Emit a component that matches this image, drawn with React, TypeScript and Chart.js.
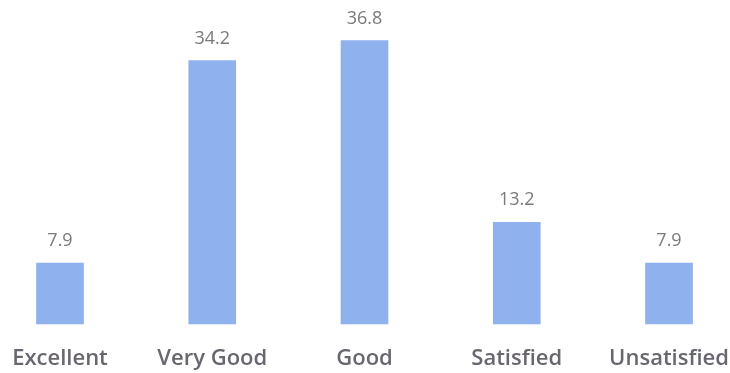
import React, { useEffect, useRef } from "react";
import { Chart, registerables } from "chart.js";

Chart.register(...registerables);

const categories = ["Excellent", "Very Good", "Good", "Satisfied", "Unsatisfied"];
const values = [7.9, 34.2, 36.8, 13.2, 7.9];
const valueLabels = ["7.9", "34.2", "36.8", "13.2", "7.9"];

const valueLabelPlugin = {
  id: "valueLabels",
  afterDatasetsDraw(chart: any) {
    const ctx = chart.ctx;
    const meta = chart.getDatasetMeta(0);
    ctx.save();
    ctx.font = "18px 'Open Sans'";
    ctx.fillStyle = "#7a7a7a";
    ctx.textAlign = "center";
    ctx.textBaseline = "middle";
    meta.data.forEach((bar: any, i: number) => {
      ctx.fillText(valueLabels[i], bar.x, bar.y - 22);
    });
    ctx.restore();
  },
};

export default function App() {
  const ref = useRef<HTMLCanvasElement>(null);
  useEffect(() => {
    if (!ref.current) return;
    const chart = new Chart(ref.current, {
      type: "bar",
      data: {
        labels: categories,
        datasets: [
          {
            data: values,
            backgroundColor: "#8fb1ee",
            borderWidth: 0,
            barThickness: 47,
            clip: false as any,
          },
        ],
      },
      options: {
        animation: false,
        responsive: false,
        maintainAspectRatio: false,
        layout: { padding: { top: 16, left: 60, right: 61, bottom: 0 } },
        plugins: { legend: { display: false }, tooltip: { enabled: false } },
        scales: {
          x: {
            offset: false,
            grid: { display: false, drawTicks: false },
            border: { display: false },
            afterFit(scale: any) {
              scale.height = 49;
              scale.paddingLeft = 0;
              scale.paddingRight = 0;
            },
            ticks: {
              autoSkip: false,
              maxRotation: 0,
              padding: 22,
              color: "#6a6670",
              font: { family: "'Open Sans'", size: 22, weight: "600" as any },
            },
          },
          y: { display: false, min: 0, max: 40 },
        },
      },
      plugins: [valueLabelPlugin],
    });
    return () => chart.destroy();
  }, []);
  return (
    <div style={{ position: "fixed", left: 0, top: 0, width: 730, height: 373, background: "#fff" }}>
      <canvas ref={ref} width={730} height={373} style={{ width: 730, height: 373 }} />
    </div>
  );
}
